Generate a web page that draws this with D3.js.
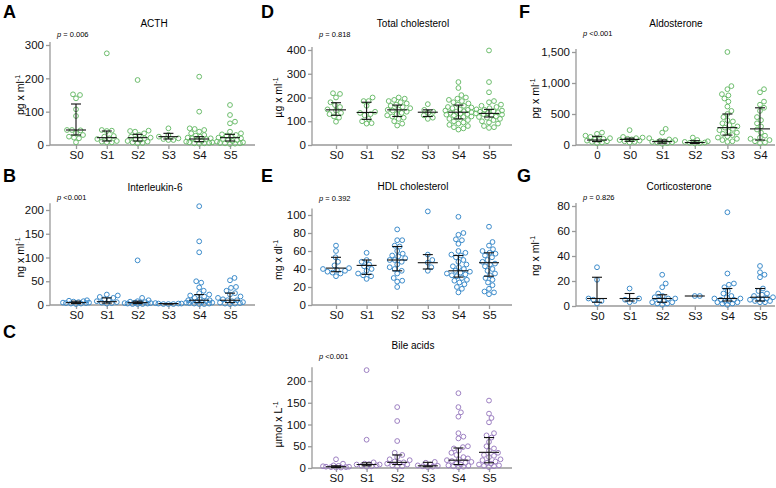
<!DOCTYPE html>
<html>
<head>
<meta charset="utf-8">
<title>Hormones and lipids by stage</title>
<script src="https://d3js.org/d3.v7.min.js"></script>
<style>
  body { margin: 0; background: #fff; }
  svg { font-family: "Liberation Sans", Arial, sans-serif; }
</style>
</head>
<body>
<div id="vis"></div>
<script>
// ---- data ----
var stageCats = ["S0", "S1", "S2", "S3", "S4", "S5"];
var aldoCats = ["0", "S0", "S1", "S2", "S3", "S4"];

var acthValues = [
  [152, 150, 140, 107, 87, 45, 45, 44, 36, 30, 25, 22, 20, 8],
  [275, 45, 43, 42, 27, 25, 20, 18, 12, 10, 8, 8],
  [195, 43, 42, 40, 35, 30, 25, 22, 20, 18, 15, 12, 10, 8, 6, 5],
  [50, 30, 25, 20, 18, 15, 15],
  [205, 100, 50, 48, 45, 40, 35, 30, 28, 25, 22, 20, 20, 18, 15, 12, 10, 8, 8, 6, 5, 5, 4],
  [120, 90, 70, 65, 40, 35, 32, 30, 28, 25, 22, 20, 18, 15, 15, 12, 10, 8, 6, 5, 5, 4, 3]
];
var acthStats = [[45, 30, 123], [22, 12, 42], [22, 12, 32], [25, 18, 35], [18, 10, 25], [22, 12, 32]];

var il6Values = [
  [10, 9, 8, 7, 6, 5, 5, 4, 4, 3, 3, 2],
  [22, 20, 17, 15, 12, 10, 8, 6, 5, 4, 3],
  [94, 15, 10, 8, 7, 6, 5, 5, 4, 4, 3, 3, 2, 2, 2],
  [4, 3, 3, 3, 2, 2, 2],
  [208, 134, 111, 50, 47, 37, 30, 25, 22, 20, 18, 15, 12, 10, 10, 8, 8, 7, 6, 5, 5, 4, 3, 3, 2, 2],
  [57, 52, 38, 36, 30, 25, 22, 18, 15, 12, 10, 10, 8, 6, 5, 4, 3, 3, 2]
];
var il6Stats = [[5, 3, 8], [7, 4, 15], [5, 3, 8], [3, 2, 3], [10, 5, 22], [10, 5, 25]];

var cholValues = [
  [218, 215, 200, 180, 168, 160, 150, 145, 135, 130, 120, 115, 98],
  [200, 185, 185, 165, 140, 135, 130, 125, 110, 100, 92, 90],
  [200, 195, 190, 185, 180, 175, 170, 165, 160, 155, 150, 148, 145, 140, 135, 130, 125, 120, 115, 110, 100, 90, 82],
  [172, 148, 140, 135, 125, 115, 110],
  [265, 240, 210, 200, 195, 190, 185, 180, 175, 170, 165, 160, 158, 155, 150, 148, 145, 142, 140, 138, 135, 132, 130, 128, 125, 120, 118, 115, 110, 105, 100, 95, 90, 85, 80, 75, 70, 65],
  [398, 265, 222, 185, 180, 170, 165, 160, 155, 150, 148, 145, 142, 140, 138, 135, 133, 130, 128, 125, 120, 118, 115, 110, 105, 100, 95, 90, 80, 75, 72]
];
var cholStats = [[148, 125, 178], [137, 108, 180], [148, 120, 168], [138, 120, 148], [138, 110, 168], [133, 118, 150]];

var hdlValues = [
  [66, 60, 53, 48, 44, 41, 40, 39, 38, 37, 36, 35, 32],
  [58, 50, 48, 45, 43, 40, 38, 35, 33, 32, 29],
  [84, 72, 72, 66, 65, 60, 57, 55, 54, 52, 50, 50, 48, 45, 42, 40, 38, 35, 30, 27, 26, 20],
  [104, 56, 50, 47, 42, 38],
  [98, 80, 78, 73, 72, 68, 60, 58, 56, 55, 53, 50, 48, 45, 43, 42, 40, 38, 37, 36, 35, 34, 33, 32, 30, 28, 27, 25, 23, 20, 18, 14],
  [87, 70, 66, 62, 60, 58, 57, 55, 53, 50, 48, 46, 45, 43, 40, 38, 35, 33, 30, 28, 25, 22, 18, 15, 14, 12]
];
var hdlStats = [[41, 37, 53], [44, 34, 50], [50, 38, 65], [47, 40, 56], [38, 31, 55], [47, 32, 58]];

var bileValues = [
  [20, 10, 6, 5, 4, 3, 3, 2, 2, 1, 1],
  [225, 65, 13, 10, 9, 8, 8, 6, 5, 4, 3],
  [140, 108, 62, 35, 30, 25, 20, 18, 15, 13, 12, 10, 8, 6, 4, 3],
  [14, 12, 8, 6, 5, 4, 3, 2],
  [172, 140, 128, 118, 80, 72, 68, 50, 48, 45, 40, 35, 30, 25, 22, 20, 18, 16, 14, 12, 10, 8, 6, 5, 4, 3, 2],
  [155, 125, 115, 105, 80, 75, 70, 60, 50, 45, 40, 35, 30, 28, 25, 20, 18, 15, 12, 10, 8, 6, 5, 4, 2]
];
var bileStats = [[3, 1, 5], [8, 5, 12], [13, 8, 30], [5, 3, 13], [18, 8, 46], [36, 12, 70]];

var aldoValues = [
  [200, 180, 150, 130, 110, 100, 90, 80, 70, 60, 50, 40, 30],
  [240, 130, 120, 110, 100, 90, 80, 70, 60, 50, 40],
  [260, 200, 110, 90, 80, 70, 60, 50, 45, 40, 30, 20],
  [120, 80, 60, 50, 40, 35, 30, 25],
  [1500, 950, 900, 820, 800, 750, 700, 620, 550, 500, 450, 400, 380, 350, 320, 300, 280, 260, 240, 220, 200, 180, 160, 140, 120, 100, 80, 60, 50],
  [900, 850, 700, 650, 600, 550, 450, 400, 350, 300, 250, 200, 150, 120, 100, 80, 60, 40, 30]
];
var aldoStats = [[80, 55, 140], [90, 60, 110], [55, 30, 80], [40, 25, 70], [280, 160, 500], [260, 80, 600]];

var corticoValues = [
  [31, 21, 6, 5, 4, 2],
  [14, 6, 5, 4, 3],
  [25, 18, 15, 10, 8, 7, 6, 6, 5, 4, 3, 3, 2, 2, 1],
  [8, 8],
  [75, 26, 18, 17, 15, 12, 10, 8, 7, 6, 6, 5, 5, 4, 4, 3, 3, 2, 2, 1],
  [32, 27, 25, 23, 14, 12, 10, 9, 8, 7, 6, 6, 5, 5, 4, 4, 3, 3]
];
var corticoStats = [[6, 3, 23], [6, 4, 10], [6, 3, 9], [8, 8, 8], [6, 4, 14], [7, 4, 14]];

var tickSets = {
  acth: [0, 100, 200, 300],
  il6: [0, 50, 100, 150, 200],
  chol: [0, 100, 200, 300, 400],
  hdl: [0, 20, 40, 60, 80, 100],
  bile: [0, 50, 100, 150, 200],
  aldo: [0, 500, 1000, 1500],
  cortico: [0, 20, 40, 60, 80]
};

var green = "#6dbd6d", blue = "#3d8ccb", purple = "#9d80c2";

// ---- panel layout ----
var panels = [
  {title: "ACTH", p: "= 0.006", unit: "pg x ml", cats: stageCats, values: acthValues, stats: acthStats, ticks: tickSets.acth,
   color: green, ax: 50, xEnd: 255, c0: 76, c1: 230, y0: 145, yTop: 45, labX: 20, tx: 154, ty: 27, py: 37},
  {title: "Interleukin-6", p: "<0.001", unit: "ng x ml", cats: stageCats, values: il6Values, stats: il6Stats, ticks: tickSets.il6,
   color: blue, ax: 50, xEnd: 255, c0: 76, c1: 230, y0: 305, yTop: 210, labX: 20, tx: 155, ty: 191, py: 200},
  {title: "Total cholesterol", p: "= 0.818", unit: "\u00b5g x ml", cats: stageCats, values: cholValues, stats: cholStats, ticks: tickSets.chol,
   color: green, ax: 312, xEnd: 512, c0: 336, c1: 489, y0: 145, yTop: 50, labX: 278, tx: 413, ty: 27, py: 37},
  {title: "HDL cholesterol", p: "= 0.392", unit: "mg x dl", cats: stageCats, values: hdlValues, stats: hdlStats, ticks: tickSets.hdl,
   color: blue, ax: 312, xEnd: 512, c0: 336, c1: 489, y0: 305, yTop: 215, labX: 278, tx: 413, ty: 190, py: 201},
  {title: "Bile acids", p: "<0.001", unit: "\u00b5mol x L", cats: stageCats, values: bileValues, stats: bileStats, ticks: tickSets.bile,
   color: purple, ax: 312, xEnd: 512, c0: 336, c1: 489, y0: 468, yTop: 381, labX: 278, tx: 413, ty: 349, py: 359},
  {title: "Aldosterone", p: "<0.001", unit: "pg x ml", cats: aldoCats, values: aldoValues, stats: aldoStats, ticks: tickSets.aldo,
   color: green, ax: 576, xEnd: 775, c0: 597, c1: 760, y0: 145, yTop: 52, labX: 535, tx: 676, ty: 27, py: 36, fmt: d3.format(",")},
  {title: "Corticosterone", p: "= 0.826", unit: "ng x ml", cats: stageCats, values: corticoValues, stats: corticoStats, ticks: tickSets.cortico,
   color: blue, ax: 576, xEnd: 775, c0: 597, c1: 760, y0: 306, yTop: 206, labX: 535, tx: 679, ty: 190, py: 200}
];

var letters = [["A", 3, 18], ["B", 3, 182], ["C", 3, 338], ["D", 261, 18], ["E", 261, 182], ["F", 519, 18], ["G", 517, 182]];

var svg = d3.select("#vis").append("svg")
  .attr("width", 776)
  .attr("height", 488);

letters.forEach(function(l) {
  svg.append("text")
    .attr("x", l[1]).attr("y", l[2])
    .attr("font-size", 18).attr("font-weight", "bold")
    .text(l[0]);
});

// beeswarm kept inside +-maxW; when crowded, points overlap where there is most room
function swarm(ys, r, maxW) {
  var placed = [];
  var order = ys.map(function(y, i) { return i; }).sort(function(a, b) { return ys[b] - ys[a]; });
  var xs = new Array(ys.length);
  order.forEach(function(i) {
    var y = ys[i];
    var best = 0, bestD = -1, found = false;
    for (var k = 0; k <= maxW * 4; k++) {
      var off = (k % 2 ? 1 : -1) * Math.ceil(k / 2) * 0.5;
      var dMin = Infinity;
      placed.forEach(function(p) {
        var dx = p[0] - off, dy = p[1] - y;
        dMin = Math.min(dMin, Math.sqrt(dx * dx + dy * dy));
      });
      if (dMin >= r) { best = off; found = true; break; }
      if (dMin > bestD) { bestD = dMin; best = off; }
    }
    xs[i] = best;
    placed.push([best, y]);
  });
  return xs;
}

panels.forEach(function(pn) {
  var g = svg.append("g");
  var top = pn.ticks[pn.ticks.length - 1];
  var y = d3.scaleLinear().domain([0, top]).range([pn.y0, pn.yTop]);
  var x = d3.scalePoint().domain(pn.cats).range([pn.c0, pn.c1]);
  var dataMax = d3.max(pn.values, function(v) { return d3.max(v); });

  // y axis
  var yAxis = g.append("g")
    .attr("transform", "translate(" + pn.ax + ",0)")
    .call(d3.axisLeft(y).tickValues(pn.ticks).tickSize(4).tickPadding(2).tickFormat(pn.fmt || d3.format("d")));
  yAxis.select(".domain").remove();
  yAxis.append("line")
    .attr("y1", pn.y0).attr("y2", Math.min(y(dataMax), pn.yTop) - 3)
    .attr("stroke", "#999").attr("stroke-width", 1.3);
  yAxis.selectAll(".tick line").attr("stroke", "#999").attr("stroke-width", 1.3);
  yAxis.selectAll("text").attr("font-size", 11.5).attr("fill", "#111")
    .attr("font-family", "Liberation Sans, Arial, sans-serif");

  // x axis
  var xAxis = g.append("g")
    .attr("transform", "translate(0," + pn.y0 + ")")
    .call(d3.axisBottom(x).tickSize(4).tickPadding(2));
  xAxis.select(".domain").remove();
  xAxis.append("line")
    .attr("x1", pn.ax).attr("x2", pn.xEnd)
    .attr("stroke", "#999").attr("stroke-width", 1.3);
  xAxis.selectAll(".tick line").attr("stroke", "#999").attr("stroke-width", 1.3);
  xAxis.selectAll("text").attr("font-size", 11.5).attr("fill", "#111")
    .attr("font-family", "Liberation Sans, Arial, sans-serif");

  // points
  pn.values.forEach(function(vals, ci) {
    var ys = vals.map(function(v) { return y(v); });
    var xs = swarm(ys, 5, 13);
    var cx = x(pn.cats[ci]);
    g.selectAll(null)
      .data(vals)
      .enter()
      .append("circle")
        .attr("cx", function(d, i) { return cx + xs[i]; })
        .attr("cy", function(d) { return y(d); })
        .attr("r", 2.4)
        .attr("fill", "none")
        .attr("stroke", pn.color)
        .attr("stroke-width", 1);
  });

  // median and interquartile whiskers
  pn.stats.forEach(function(s, ci) {
    var cx = x(pn.cats[ci]);
    var m = g.append("g").attr("stroke", "#111").attr("stroke-width", 1.1);
    m.append("line").attr("x1", cx).attr("x2", cx).attr("y1", y(s[1])).attr("y2", y(s[2]));
    m.append("line").attr("x1", cx - 10).attr("x2", cx + 10).attr("y1", y(s[0])).attr("y2", y(s[0]));
    if (s[1] !== s[2]) {
      m.append("line").attr("x1", cx - 5).attr("x2", cx + 5).attr("y1", y(s[1])).attr("y2", y(s[1]));
      m.append("line").attr("x1", cx - 5).attr("x2", cx + 5).attr("y1", y(s[2])).attr("y2", y(s[2]));
    }
  });

  // title and p value
  g.append("text")
    .attr("x", pn.tx).attr("y", pn.ty)
    .attr("text-anchor", "middle").attr("font-size", 10)
    .text(pn.title);
  var pt = g.append("text")
    .attr("x", pn.ax + 7).attr("y", pn.py)
    .attr("font-size", 7.5);
  pt.append("tspan").attr("font-style", "italic").text("p");
  pt.append("tspan").text(" " + pn.p);

  // y label with superscript
  var lab = g.append("text")
    .attr("transform", "translate(" + pn.labX + "," + ((pn.y0 + pn.yTop) / 2) + ") rotate(-90)")
    .attr("text-anchor", "middle").attr("dy", "0.35em")
    .attr("font-size", 10.5);
  lab.append("tspan").text(pn.unit);
  lab.append("tspan").attr("font-size", 7).attr("dy", "-0.5em").text("-1");
});
</script>
</body>
</html>
